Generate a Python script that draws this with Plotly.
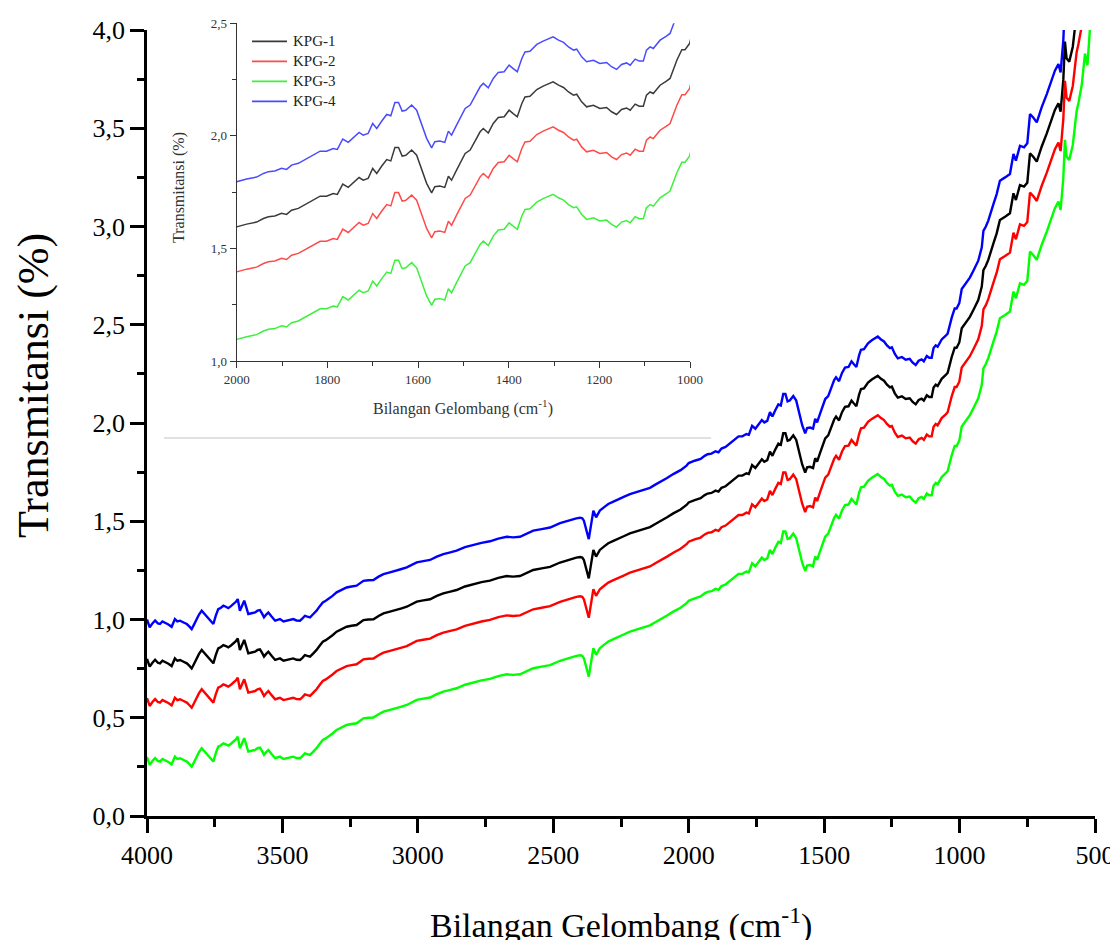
import plotly.graph_objects as go

# Wavenumber (cm^-1)
wavenumber = [4000,3990,3980,3970,3960,3952,3943,3934,3921,3909,
 3897,3888,3878,3865,3853,3844,3835,3826,3817,3808,
 3798,3789,3780,3768,3755,3746,3737,3727,3718,3709,
 3700,3690,3681,3672,3665,3657,3649,3641,3633,3626,
 3614,3601,3592,3583,3575,3568,3560,3552,3540,3527,
 3518,3509,3496,3484,3472,3460,3448,3435,3426,3417,
 3408,3398,3386,3374,3362,3351,3340,3330,3315,3300,
 3282,3263,3245,3226,3213,3201,3183,3164,3145,3127,
 3103,3078,3060,3041,3022,3004,2980,2955,2930,2906,
 2880,2857,2826,2795,2765,2734,2703,2672,2648,2623,
 2598,2574,2543,2512,2475,2438,2415,2401,2393,2387,
 2377,2369,2362,2352,2342,2328,2312,2297,2278,2260,
 2238,2217,2195,2174,2143,2125,2106,2080,2057,2030,
 2008,2000,1978,1956,1941,1930,1916,1901,1890,1879,
 1864,1846,1831,1816,1802,1787,1778,1766,1754,1741,
 1730,1721,1710,1700,1691,1680,1669,1660,1651,1643,
 1635,1627,1614,1603,1592,1581,1570,1563,1552,1541,
 1533,1526,1515,1507,1496,1485,1474,1463,1456,1445,
 1434,1423,1410,1399,1390,1381,1371,1364,1353,1338,
 1324,1313,1302,1290,1279,1268,1257,1250,1239,1228,
 1213,1199,1184,1173,1162,1151,1140,1132,1121,1112,
 1103,1096,1088,1081,1066,1052,1044,1029,1018,1011,
 1001,992,974,962,949,931,918,912,903,894,
 875,863,851,842,832,814,801,792,777,762,
 750,740,728,715,697,678,660,648,635,627,
 617,611,605,595,582,574,568,561,549,537,
 528,518,505,498]

kpg1 = [0.800,0.760,0.780,0.795,0.780,0.777,0.790,0.785,0.775,0.763,
 0.802,0.790,0.794,0.785,0.777,0.765,0.751,0.775,0.802,0.825,
 0.845,0.830,0.819,0.800,0.777,0.820,0.853,0.860,0.870,0.865,
 0.858,0.868,0.879,0.890,0.904,0.845,0.870,0.896,0.860,0.828,
 0.832,0.836,0.845,0.848,0.830,0.811,0.825,0.836,0.815,0.794,
 0.798,0.802,0.790,0.794,0.800,0.802,0.795,0.794,0.805,0.819,
 0.815,0.811,0.828,0.845,0.868,0.887,0.895,0.904,0.920,0.938,
 0.950,0.963,0.968,0.972,0.985,0.997,1.000,1.001,1.018,1.031,
 1.040,1.048,1.057,1.065,1.080,1.091,1.097,1.103,1.120,1.133,
 1.142,1.150,1.168,1.181,1.190,1.198,1.212,1.221,1.218,1.221,
 1.238,1.252,1.260,1.268,1.290,1.306,1.315,1.318,1.315,1.303,
 1.252,1.209,1.269,1.354,1.320,1.354,1.372,1.388,1.400,1.413,
 1.425,1.438,1.448,1.459,1.470,1.485,1.498,1.520,1.540,1.560,
 1.583,1.596,1.608,1.617,1.633,1.641,1.644,1.656,1.651,1.670,
 1.678,1.697,1.715,1.732,1.732,1.744,1.740,1.786,1.771,1.796,
 1.815,1.803,1.811,1.855,1.833,1.866,1.895,1.889,1.948,1.948,
 1.910,1.914,1.937,1.914,1.855,1.789,1.747,1.774,1.777,1.771,
 1.821,1.803,1.848,1.877,1.922,1.937,1.981,2.018,2.033,2.013,
 2.055,2.082,2.085,2.114,2.099,2.085,2.144,2.173,2.176,2.206,
 2.221,2.232,2.240,2.225,2.215,2.195,2.181,2.185,2.151,2.129,
 2.136,2.122,2.126,2.107,2.095,2.117,2.124,2.114,2.141,2.132,
 2.132,2.181,2.195,2.188,2.225,2.243,2.255,2.336,2.383,2.383,
 2.410,2.482,2.516,2.540,2.575,2.626,2.694,2.778,2.800,2.830,
 2.914,2.965,3.033,3.040,3.050,3.067,3.169,3.135,3.211,3.203,
 3.223,3.372,3.355,3.330,3.406,3.474,3.542,3.593,3.627,3.584,
 3.746,3.941,3.856,3.839,3.915,4.017,4.085,4.130,4.220,4.380,
 4.320,4.520,4.620,4.660]

kpg2 = [0.600,0.560,0.580,0.595,0.580,0.577,0.590,0.585,0.575,0.563,
 0.602,0.590,0.594,0.585,0.577,0.565,0.551,0.575,0.602,0.625,
 0.645,0.630,0.619,0.600,0.577,0.620,0.653,0.660,0.670,0.665,
 0.658,0.668,0.679,0.690,0.704,0.645,0.670,0.696,0.660,0.628,
 0.632,0.636,0.645,0.648,0.630,0.611,0.625,0.636,0.615,0.594,
 0.598,0.602,0.590,0.594,0.600,0.602,0.595,0.594,0.605,0.619,
 0.615,0.611,0.628,0.645,0.668,0.687,0.695,0.704,0.720,0.738,
 0.750,0.763,0.768,0.772,0.785,0.797,0.800,0.801,0.818,0.831,
 0.840,0.848,0.857,0.865,0.880,0.891,0.897,0.903,0.920,0.933,
 0.942,0.950,0.968,0.981,0.990,0.998,1.012,1.021,1.018,1.021,
 1.038,1.052,1.060,1.068,1.090,1.106,1.115,1.118,1.115,1.103,
 1.052,1.009,1.069,1.154,1.120,1.154,1.172,1.188,1.200,1.213,
 1.225,1.238,1.248,1.259,1.270,1.285,1.298,1.320,1.340,1.360,
 1.383,1.396,1.408,1.417,1.433,1.441,1.444,1.456,1.451,1.470,
 1.478,1.497,1.515,1.532,1.532,1.544,1.540,1.586,1.571,1.596,
 1.615,1.603,1.611,1.655,1.633,1.666,1.695,1.689,1.748,1.748,
 1.710,1.714,1.737,1.714,1.655,1.589,1.547,1.574,1.577,1.571,
 1.621,1.603,1.648,1.677,1.722,1.737,1.781,1.818,1.833,1.813,
 1.855,1.882,1.885,1.914,1.899,1.885,1.944,1.973,1.976,2.006,
 2.021,2.032,2.040,2.025,2.015,1.995,1.981,1.985,1.951,1.929,
 1.936,1.922,1.926,1.907,1.895,1.917,1.924,1.914,1.941,1.932,
 1.932,1.981,1.995,1.988,2.025,2.043,2.055,2.136,2.183,2.183,
 2.210,2.282,2.316,2.340,2.375,2.426,2.494,2.578,2.600,2.630,
 2.714,2.765,2.833,2.840,2.850,2.867,2.969,2.935,3.011,3.003,
 3.023,3.172,3.155,3.130,3.206,3.274,3.342,3.393,3.427,3.384,
 3.546,3.741,3.656,3.639,3.715,3.817,3.885,3.930,4.020,4.180,
 4.120,4.320,4.420,4.460]

kpg3 = [0.300,0.260,0.280,0.295,0.280,0.277,0.290,0.285,0.275,0.263,
 0.302,0.290,0.294,0.285,0.277,0.265,0.251,0.275,0.302,0.325,
 0.345,0.330,0.319,0.300,0.277,0.320,0.353,0.360,0.370,0.365,
 0.358,0.368,0.379,0.390,0.404,0.345,0.370,0.396,0.360,0.328,
 0.332,0.336,0.345,0.348,0.330,0.311,0.325,0.336,0.315,0.294,
 0.298,0.302,0.290,0.294,0.300,0.302,0.295,0.294,0.305,0.319,
 0.315,0.311,0.328,0.345,0.368,0.387,0.395,0.404,0.420,0.438,
 0.450,0.463,0.468,0.472,0.485,0.497,0.500,0.501,0.518,0.531,
 0.540,0.548,0.557,0.565,0.580,0.591,0.597,0.603,0.620,0.633,
 0.642,0.650,0.668,0.681,0.690,0.698,0.712,0.721,0.718,0.721,
 0.738,0.752,0.760,0.768,0.790,0.806,0.815,0.818,0.815,0.803,
 0.752,0.709,0.769,0.854,0.820,0.854,0.872,0.888,0.900,0.913,
 0.925,0.938,0.948,0.959,0.970,0.985,0.998,1.020,1.040,1.060,
 1.083,1.096,1.108,1.117,1.133,1.141,1.144,1.156,1.151,1.170,
 1.178,1.197,1.215,1.232,1.232,1.244,1.240,1.286,1.271,1.296,
 1.315,1.303,1.311,1.355,1.333,1.366,1.395,1.389,1.448,1.448,
 1.410,1.414,1.437,1.414,1.355,1.289,1.247,1.274,1.277,1.271,
 1.321,1.303,1.348,1.377,1.422,1.437,1.481,1.518,1.533,1.513,
 1.555,1.582,1.585,1.614,1.599,1.585,1.644,1.673,1.676,1.706,
 1.721,1.732,1.740,1.725,1.715,1.695,1.681,1.685,1.651,1.629,
 1.636,1.622,1.626,1.607,1.595,1.617,1.624,1.614,1.641,1.632,
 1.632,1.681,1.695,1.688,1.725,1.743,1.755,1.836,1.883,1.883,
 1.910,1.982,2.016,2.040,2.075,2.126,2.194,2.278,2.300,2.330,
 2.414,2.465,2.533,2.540,2.550,2.567,2.669,2.635,2.711,2.703,
 2.723,2.872,2.855,2.830,2.906,2.974,3.042,3.093,3.127,3.084,
 3.246,3.441,3.356,3.339,3.415,3.517,3.585,3.630,3.720,3.880,
 3.820,4.020,4.120,4.160]

kpg4 = [1.000,0.960,0.980,0.995,0.980,0.977,0.990,0.985,0.975,0.963,
 1.002,0.990,0.994,0.985,0.977,0.965,0.951,0.975,1.002,1.025,
 1.045,1.030,1.019,1.000,0.977,1.020,1.053,1.060,1.070,1.065,
 1.058,1.068,1.079,1.090,1.104,1.045,1.070,1.096,1.060,1.028,
 1.032,1.036,1.045,1.048,1.030,1.011,1.025,1.036,1.015,0.994,
 0.998,1.002,0.990,0.994,1.000,1.002,0.995,0.994,1.005,1.019,
 1.015,1.011,1.028,1.045,1.068,1.087,1.095,1.104,1.120,1.138,
 1.150,1.163,1.168,1.172,1.185,1.197,1.200,1.201,1.218,1.231,
 1.240,1.248,1.257,1.265,1.280,1.291,1.297,1.303,1.320,1.333,
 1.342,1.350,1.368,1.381,1.390,1.398,1.412,1.421,1.418,1.421,
 1.438,1.452,1.460,1.468,1.490,1.506,1.515,1.518,1.515,1.503,
 1.452,1.409,1.469,1.554,1.520,1.554,1.572,1.588,1.600,1.613,
 1.625,1.638,1.648,1.659,1.670,1.685,1.698,1.720,1.740,1.760,
 1.783,1.796,1.808,1.817,1.833,1.841,1.844,1.856,1.851,1.870,
 1.878,1.897,1.915,1.932,1.932,1.944,1.940,1.986,1.971,1.996,
 2.015,2.003,2.011,2.055,2.033,2.066,2.095,2.089,2.148,2.148,
 2.110,2.114,2.137,2.114,2.055,1.989,1.947,1.974,1.977,1.971,
 2.021,2.003,2.048,2.077,2.122,2.137,2.181,2.218,2.233,2.213,
 2.255,2.282,2.285,2.314,2.299,2.285,2.344,2.373,2.376,2.406,
 2.421,2.432,2.440,2.425,2.415,2.395,2.381,2.385,2.351,2.329,
 2.336,2.322,2.326,2.307,2.295,2.317,2.324,2.314,2.341,2.332,
 2.332,2.381,2.395,2.388,2.425,2.443,2.455,2.536,2.583,2.583,
 2.610,2.682,2.716,2.740,2.775,2.826,2.894,2.978,3.000,3.030,
 3.114,3.165,3.233,3.240,3.250,3.267,3.369,3.335,3.411,3.403,
 3.423,3.572,3.555,3.530,3.606,3.674,3.742,3.793,3.827,3.784,
 3.946,4.141,4.056,4.039,4.115,4.217,4.285,4.330,4.420,4.580,
 4.520,4.720,4.820,4.860]

series_names = ["KPG-1", "KPG-2", "KPG-3", "KPG-4"]
series_values = [kpg1, kpg2, kpg3, kpg4]
main_colors = ["#000000", "#ff0000", "#00ff00", "#0000ff"]
inset_colors = ["#3a3a3a", "#ff4a4a", "#3cf03c", "#4a4aff"]

main_xticks = [4000, 3500, 3000, 2500, 2000, 1500, 1000, 500]
main_yticks = [0.0, 0.5, 1.0, 1.5, 2.0, 2.5, 3.0, 3.5, 4.0]
main_yticklabels = ["0,0", "0,5", "1,0", "1,5", "2,0", "2,5", "3,0", "3,5", "4,0"]
inset_xticks = [2000, 1800, 1600, 1400, 1200, 1000]
inset_yticks = [1.0, 1.5, 2.0, 2.5]
inset_yticklabels = ["1,0", "1,5", "2,0", "2,5"]

SERIF = "Liberation Serif"

fig = go.Figure()

# main traces
for name, vals, col in zip(series_names, series_values, main_colors):
    fig.add_trace(go.Scatter(x=wavenumber, y=vals, mode="lines", name=name,
                             line=dict(color=col, width=2.4), showlegend=False,
                             xaxis="x", yaxis="y"))
# inset traces
for name, vals, col in zip(series_names, series_values, inset_colors):
    fig.add_trace(go.Scatter(x=wavenumber, y=vals, mode="lines", name=name,
                             line=dict(color=col, width=1.5), showlegend=False,
                             xaxis="x2", yaxis="y2"))

# the page has an 8px body margin, so the figure is 8px smaller than the window
W, H = 1110, 932
L, R, T, B = 139, 23, 12, 124
plot_w = W - L - R  # 948
plot_h = H - T - B  # 796
main_top = (816 - 30) / plot_h

def px_x(p):  # window pixel -> paper x
    return (p - 147) / plot_w

def px_y(p):  # window pixel -> paper y
    return (816 - p) / plot_h

fig.update_layout(
    width=W, height=H,
    margin=dict(l=L, r=R, t=T, b=B, autoexpand=False),
    paper_bgcolor="white", plot_bgcolor="rgba(0,0,0,0)",
    font=dict(family=SERIF, color="black"),
    showlegend=False,
    xaxis=dict(domain=[0, 1], range=[4000, 500], showgrid=False, zeroline=False,
               automargin=False,
               showline=True, linecolor="black", linewidth=2.5, mirror=False,
               ticks="outside", ticklen=14, tickwidth=2.5, tickcolor="black",
               tickvals=main_xticks, ticktext=[str(v) for v in main_xticks],
               tickfont=dict(family=SERIF, size=26, color="black"),
               minor=dict(dtick=250, tick0=0, ticks="outside", ticklen=8,
                          tickwidth=2.5, tickcolor="black"),
               anchor="y"),
    yaxis=dict(domain=[0, main_top], range=[0, 4.0], showgrid=False, zeroline=False,
               automargin=False,
               showline=True, linecolor="black", linewidth=2.5, mirror=False,
               ticks="outside", ticklen=14, tickwidth=2.5, tickcolor="black",
               tickvals=main_yticks, ticktext=main_yticklabels,
               tickfont=dict(family=SERIF, size=26, color="black"),
               minor=dict(dtick=0.25, tick0=0, ticks="outside", ticklen=7,
                          tickwidth=2.5, tickcolor="black"),
               anchor="x"),
    xaxis2=dict(domain=[px_x(236.7), px_x(690)], range=[2000, 1000],
                automargin=False,
                showgrid=False, zeroline=False, showline=True,
                linecolor="#333333", linewidth=1.3, mirror=False,
                ticks="outside", ticklen=6, tickwidth=1.2, tickcolor="#333333",
                tickvals=inset_xticks, ticktext=[str(v) for v in inset_xticks],
                tickfont=dict(family=SERIF, size=13, color="#333333"),
                minor=dict(dtick=100, tick0=0, ticks="outside", ticklen=4,
                           tickwidth=1.2, tickcolor="#333333"),
                anchor="y2"),
    yaxis2=dict(domain=[px_y(361), px_y(23.3)], range=[1.0, 2.5],
                automargin=False,
                showgrid=False, zeroline=False, showline=True,
                linecolor="#333333", linewidth=1.3, mirror=False,
                ticks="outside", ticklen=6, tickwidth=1.2, tickcolor="#333333",
                tickvals=inset_yticks, ticktext=inset_yticklabels,
                tickfont=dict(family=SERIF, size=13, color="#333333"),
                minor=dict(dtick=0.25, tick0=0, ticks="outside", ticklen=4,
                           tickwidth=1.2, tickcolor="#333333"),
                anchor="x2"),
)

annotations = [
    dict(text="Bilangan Gelombang (cm<sup>-1</sup>)", x=0.5, y=px_y(923),
         xref="paper", yref="paper", xanchor="center", yanchor="middle",
         showarrow=False, font=dict(family=SERIF, size=34, color="black")),
    dict(text="Transmitansi (%)", x=px_x(33), y=px_y(386), textangle=-90,
         xref="paper", yref="paper", xanchor="center", yanchor="middle",
         showarrow=False, font=dict(family=SERIF, size=44, color="black")),
    dict(text="Bilangan Gelombang (cm<sup>-1</sup>)", x=px_x(463), y=px_y(407),
         xref="paper", yref="paper", xanchor="center", yanchor="middle",
         showarrow=False, font=dict(family=SERIF, size=16, color="#333333")),
    dict(text="Transmitansi (%)", x=px_x(179), y=px_y(188), textangle=-90,
         xref="paper", yref="paper", xanchor="center", yanchor="middle",
         showarrow=False, font=dict(family=SERIF, size=16, color="#333333")),
]

# legend of the inset (line samples + labels)
legend_rows = [41.3, 61.3, 81.3, 101.3]
for name, col, ry in zip(series_names, inset_colors, legend_rows):
    fig.add_shape(type="line", xref="paper", yref="paper",
                  x0=px_x(252), x1=px_x(287), y0=px_y(ry), y1=px_y(ry),
                  line=dict(color=col, width=1.8))
    annotations.append(dict(text=name, x=px_x(291), y=px_y(ry), xref="paper",
                            yref="paper", xanchor="left", yanchor="middle",
                            showarrow=False,
                            font=dict(family=SERIF, size=15, color="#222222")))

fig.update_layout(annotations=annotations)

fig.add_shape(type="line", xref="paper", yref="paper",
              x0=px_x(164), x1=px_x(711), y0=px_y(438), y1=px_y(438),
              line=dict(color="#c4c4c4", width=1.2))

fig.write_html("out.html")
